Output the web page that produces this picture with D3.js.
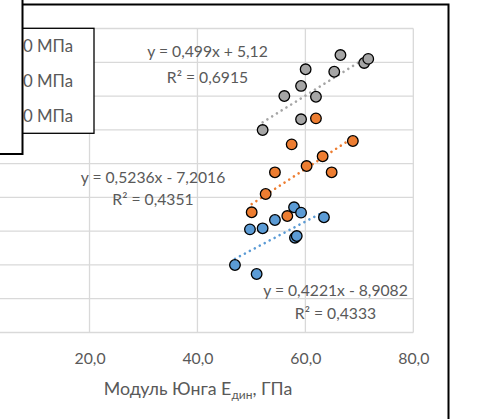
<!DOCTYPE html>
<html>
<head>
<meta charset="utf-8">
<script src="https://cdn.jsdelivr.net/npm/d3@7"></script>
<style>
  body { margin: 0; background: #fff; }
  svg { display: block; font-family: Lato, "Open Sans", sans-serif; }
</style>
</head>
<body>
<div class="chart"></div>
<script>
const width = 501,
      height = 419;

// legend names (mostly hidden under the box on the left)
const seriesNames = ["σ = 10 МПа", "σ = 40 МПа", "σ = 70 МПа"];
const seriesColors = ["#5b9bd5", "#ed7d31", "#a5a5a5"];

// series values, E (GPa) and strength
const blueX   = [46.95, 50.97, 49.73, 52.08, 54.36, 58.07, 58.4, 57.9, 59.2, 63.44];
const blueY   = [9.99, 8.66, 15.27, 15.42, 16.65, 14.03, 14.28, 18.53, 17.74, 17.05];
const orangeX = [50.05, 52.64, 54.36, 56.65, 57.46, 60.23, 61.96, 63.2, 64.87, 68.8];
const orangeY = [17.79, 20.5, 23.71, 17.24, 27.85, 24.64, 31.7, 26.08, 23.71, 28.35];
const greyX   = [52.08, 56.1, 59.2, 59.2, 60.05, 61.96, 65.35, 66.5, 70.9, 71.65];
const greyY   = [29.97, 35.0, 31.56, 36.5, 38.96, 34.9, 38.6, 41.07, 39.9, 40.5];

// linear trendlines as printed on the chart
const trendSlope     = [0.4221, 0.5236, 0.499];
const trendIntercept = [-8.9082, -7.2016, 5.12];
const trendEq = ["y = 0,4221x - 8,9082", "y = 0,5236x - 7,2016", "y = 0,499x + 5,12"];
const trendR2 = ["R² = 0,4333", "R² = 0,4351", "R² = 0,6915"];

const xTicks = [0, 20, 40, 60, 80];
const xTickLabels = [20, 40, 60, 80];   // the 0,0 label sits off the cropped picture
const yTicks = [0, 5, 10, 15, 20, 25, 30, 35, 40, 45];
const xTitle = ["Модуль Юнга E", "дин", ", ГПа"];

const seriesX = [blueX, orangeX, greyX],
      seriesY = [blueY, orangeY, greyY];

// label anchor spots [cx, baseline1, baseline2]
const labelPos = [[335.5, 296, 319], [153, 183, 205], [207.5, 57, 83]];

const textColor = "#595959",
      gridColor = "#d9d9d9";

const x = d3.scaleLinear().domain([0, 80]).range([-18.4, 413.3]);
const y = d3.scaleLinear().domain([0, 45]).range([332.5, 28.5]);

const svg = d3.select(".chart")
              .append("svg")
              .attr("width", width)
              .attr("height", height)
              .attr("viewBox", [0, 0, width, height]);

svg.append("rect").attr("width", width).attr("height", height).attr("fill", "#fff");

// chart area border (left part runs under the overlapping box)
svg.append("rect")
   .attr("x", -40).attr("y", 4.5)
   .attr("width", 488.5).attr("height", 500)
   .attr("fill", "#fff")
   .attr("stroke", "#000").attr("stroke-width", 2);

var g = svg.append("g").classed("plot", true);

// gridlines
g.append("g").selectAll("line").data(yTicks).enter().append("line")
 .attr("x1", x(0)).attr("x2", x(80))
 .attr("y1", d => y(d)).attr("y2", d => y(d))
 .attr("stroke", gridColor).attr("stroke-width", 1.3);
g.append("g").selectAll("line").data(xTicks).enter().append("line")
 .attr("x1", d => x(d)).attr("x2", d => x(d))
 .attr("y1", y(0)).attr("y2", y(45))
 .attr("stroke", gridColor).attr("stroke-width", 1.3);

// x axis labels
const fmt = d3.formatLocale({decimal: ",", thousands: " ", grouping: [3], currency: ["", ""]}).format(".1f");
const xAxis = d3.axisBottom(x).tickValues(xTickLabels).tickFormat(fmt).tickSize(0).tickPadding(20.5);
const ax = g.append("g").attr("transform", "translate(0," + y(0) + ")").call(xAxis);
ax.select(".domain").remove();
ax.selectAll("text").attr("fill", textColor).style("font-size", "15.8px").style("font-family", "Lato, sans-serif");

// axis title
const tt = g.append("text")
  .attr("x", 198).attr("y", 395)
  .attr("text-anchor", "middle")
  .attr("fill", textColor)
  .style("font-size", "17.8px");
tt.append("tspan").text(xTitle[0]);
tt.append("tspan").text(xTitle[1]).attr("dy", 4).style("font-size", "12px");
tt.append("tspan").text(xTitle[2]).attr("dy", -4);

// trendlines, under the markers
seriesX.forEach(function(xs, i) {
    var x0 = d3.min(xs), x1 = d3.max(xs);
    g.append("line")
     .attr("x1", x(x0)).attr("y1", y(trendSlope[i] * x0 + trendIntercept[i]))
     .attr("x2", x(x1)).attr("y2", y(trendSlope[i] * x1 + trendIntercept[i]))
     .attr("stroke", seriesColors[i])
     .attr("stroke-width", 2.6)
     .attr("stroke-linecap", "round")
     .attr("stroke-dasharray", "0.01 5.6");
});

// markers
seriesX.forEach(function(xs, i) {
    g.append("g").selectAll("circle").data(d3.range(xs.length)).enter().append("circle")
     .attr("cx", j => x(xs[j]))
     .attr("cy", j => y(seriesY[i][j]))
     .attr("r", 5.3)
     .attr("fill", seriesColors[i])
     .attr("stroke", "#000")
     .attr("stroke-width", 1.3);
});

// trendline labels
labelPos.forEach(function(p, i) {
    var lab = g.append("text").attr("text-anchor", "middle").attr("fill", textColor).style("font-size", "15.7px");
    lab.append("tspan").attr("x", p[0]).attr("y", p[1]).text(trendEq[i]);
    lab.append("tspan").attr("x", p[0]).attr("y", p[2]).text(trendR2[i]);
});

// legend box, its left part hidden under the overlapping box
var leg = svg.append("g").classed("legend", true);
leg.append("rect")
   .attr("x", -60).attr("y", 28.3)
   .attr("width", 154).attr("height", 105)
   .attr("fill", "#fff")
   .attr("stroke", "#000").attr("stroke-width", 1.3);
seriesNames.forEach(function(name, i) {
    leg.append("circle")
       .attr("cx", -40).attr("cy", 46 + i * 35)
       .attr("r", 5.3).attr("fill", seriesColors[i])
       .attr("stroke", "#000").attr("stroke-width", 1.3);
    leg.append("text")
       .attr("x", 73).attr("y", 52 + i * 35)
       .attr("text-anchor", "end")
       .attr("fill", textColor)
       .style("font-size", "16.8px")
       .text(name);
});

// overlapping white box at the top left
svg.append("rect")
   .attr("x", -10).attr("y", -10)
   .attr("width", 32.5).attr("height", 164)
   .attr("fill", "#fff")
   .attr("stroke", "#000").attr("stroke-width", 2);
</script>
</body>
</html>
